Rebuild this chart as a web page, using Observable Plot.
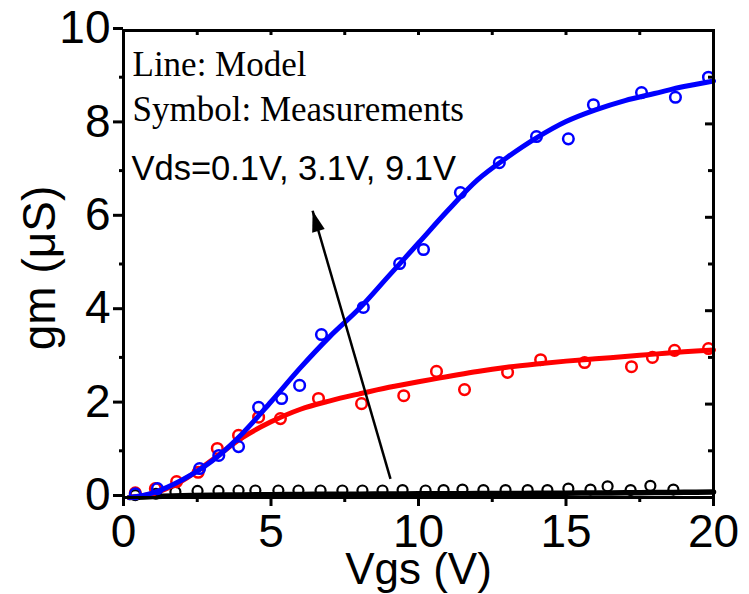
<!DOCTYPE html>
<html>
<head>
<meta charset="utf-8">
<script src="https://cdn.jsdelivr.net/npm/d3@7"></script>
<script src="https://cdn.jsdelivr.net/npm/@observablehq/plot@0.6"></script>
<style>
  html, body { margin: 0; padding: 0; background: #fff; }
  #chart svg { display: block; }
</style>
</head>
<body>
<div id="chart"></div>
<script>
// ---- Measurements (symbols) ----
const blueMeasVgs = [0.4, 1.15, 2.58, 3.23, 3.9, 4.58, 5.36, 5.97, 6.71, 8.13, 9.36, 10.17, 11.42, 12.74, 14.0, 15.08, 15.93, 17.56, 18.71, 19.83];
const blueMeasGm  = [0.08, 0.19, 0.62, 0.9, 1.09, 1.93, 2.12, 2.4, 3.49, 4.07, 5.01, 5.31, 6.53, 7.17, 7.73, 7.68, 8.41, 8.67, 8.57, 9.0];

const redMeasVgs = [0.4, 1.08, 1.8, 2.53, 3.18, 3.9, 4.58, 5.32, 6.61, 8.07, 9.5, 10.61, 11.56, 13.02, 14.14, 15.63, 17.22, 17.93, 18.68, 19.83];
const redMeasGm  = [0.1, 0.19, 0.34, 0.54, 1.05, 1.33, 1.72, 1.69, 2.12, 2.01, 2.18, 2.7, 2.31, 2.68, 2.95, 2.89, 2.8, 3.0, 3.15, 3.19];

const blackMeasVgs = [0.4, 1.1, 1.76, 2.51, 3.22, 3.9, 4.47, 5.25, 5.93, 6.68, 7.42, 8.1, 8.78, 9.46, 10.24, 10.85, 11.49, 12.2, 12.95, 13.7, 14.37, 15.08, 15.83, 16.41, 17.19, 17.86, 18.64];
const blackMeasGm  = [0.05, 0.08, 0.12, 0.14, 0.14, 0.15, 0.15, 0.15, 0.15, 0.15, 0.15, 0.15, 0.15, 0.16, 0.15, 0.16, 0.17, 0.16, 0.16, 0.16, 0.16, 0.19, 0.17, 0.24, 0.16, 0.25, 0.17];

// ---- Model (lines) ----
const modelVgs     = [0.2, 1, 2, 3, 4, 5, 6, 7, 8, 9, 10, 11, 12, 13, 14, 15, 16, 17, 18, 19, 20];
const blueModelGm  = [0, 0.1, 0.38, 0.78, 1.35, 2.05, 2.78, 3.45, 4.05, 4.75, 5.45, 6.15, 6.8, 7.28, 7.7, 8.05, 8.3, 8.5, 8.65, 8.8, 8.92];
const redModelGm   = [0, 0.08, 0.36, 0.8, 1.27, 1.62, 1.89, 2.07, 2.22, 2.36, 2.48, 2.59, 2.7, 2.79, 2.86, 2.92, 2.97, 3.02, 3.07, 3.12, 3.16];
const blackModelGm = [0, 0.02, 0.04, 0.05, 0.055, 0.06, 0.065, 0.07, 0.072, 0.075, 0.078, 0.08, 0.083, 0.086, 0.09, 0.093, 0.096, 0.1, 0.105, 0.11, 0.12];

// ---- Ticks ----
const xMajorTicks = [0, 5, 10, 15, 20];
const xMinorTicks = [2.5, 7.5, 12.5, 17.5];
const yMajorTicks = [0, 2, 4, 6, 8, 10];
const yMinorTicks = [1, 3, 5, 7, 9];

// ---- Texts ----
const xLabel = ["Vgs (V)"];
const yLabel = ["gm (\u03BCS)"];
const noteLine1 = ["Line: Model"];
const noteLine2 = ["Symbol: Measurements"];
const noteLine3 = ["Vds=0.1V, 3.1V, 9.1V"];

// ---- Arrow annotation (data coordinates) ----
const arrowData = [{x1: 9.05, y1: 0.4, x2: 6.41, y2: 6.14}];

const toRows = (xs, ys) => xs.map((x, i) => ({x, y: ys[i]}));
const blueMeas = toRows(blueMeasVgs, blueMeasGm);
const redMeas = toRows(redMeasVgs, redMeasGm);
const blackMeas = toRows(blackMeasVgs, blackMeasGm);
const blueModel = toRows(modelVgs, blueModelGm);
const redModel = toRows(modelVgs, redModelGm);
const blackModel = toRows(modelVgs, blackModelGm);

const W = 749, H = 594;
const mL = 123, mR = 36, mT = 30, mB = 97;
const innerW = W - mL - mR, innerH = H - mT - mB;

// Filled arrow head, tip at origin, rotated to follow the arrow shaft
const arrowHead = {
  draw(ctx) {
    const L = 21, Wd = 6.5, a = -16.2 * Math.PI / 180;
    const pts = [[0, 0], [-Wd, L], [Wd, L]].map(([px, py]) =>
      [px * Math.cos(a) - py * Math.sin(a), px * Math.sin(a) + py * Math.cos(a)]);
    ctx.moveTo(pts[0][0], pts[0][1]);
    ctx.lineTo(pts[1][0], pts[1][1]);
    ctx.lineTo(pts[2][0], pts[2][1]);
    ctx.closePath();
  }
};

const sans = "'Liberation Sans', Arial, Helvetica, sans-serif";
const serif = "'Liberation Serif', 'Times New Roman', Times, serif";

const chart = Plot.plot({
  width: W, height: H,
  marginLeft: mL, marginRight: mR, marginTop: mT, marginBottom: mB,
  x: {domain: [0, 20]},
  y: {domain: [0, 10]},
  style: {fontFamily: sans, background: "white", color: "black", overflow: "visible"},
  marks: [
    // axes (outward ticks on bottom/left)
    Plot.axisX({ticks: xMajorTicks, tickSize: 9, tickPadding: 8, strokeWidth: 3, fontSize: 46, label: null, fill: "black"}),
    Plot.axisX({ticks: xMinorTicks, tickSize: 5, strokeWidth: 3, tickFormat: () => "", label: null}),
    Plot.axisY({ticks: yMajorTicks, tickSize: 10, tickPadding: 3, strokeWidth: 3, fontSize: 46, label: null, dy: -2, fill: "black"}),
    Plot.axisY({ticks: yMinorTicks, tickSize: 4, strokeWidth: 3, tickFormat: () => "", label: null}),
    // mirrored inward ticks on top/right
    Plot.tickX(xMinorTicks.concat([5, 10, 15]), {x: d => d, insetBottom: innerH - 5, strokeWidth: 3, stroke: "black"}),
    Plot.tickY(yMajorTicks.slice(1, -1), {y: d => d, insetLeft: innerW - 8, strokeWidth: 3, stroke: "black"}),
    Plot.tickY(yMinorTicks, {y: d => d, insetLeft: innerW - 5, strokeWidth: 3, stroke: "black"}),

    // Vds = 0.1 V
    Plot.dot(blackMeas, {x: "x", y: "y", r: 5, stroke: "black", strokeWidth: 2.2, fill: "none"}),
    Plot.line(blackModel, {x: "x", y: "y", stroke: "black", strokeWidth: 5.5, curve: "catmull-rom"}),
    // Vds = 3.1 V
    Plot.dot(redMeas, {x: "x", y: "y", r: 5.3, stroke: "#ff0000", strokeWidth: 2.5, fill: "none"}),
    Plot.line(redModel, {x: "x", y: "y", stroke: "#ff0000", strokeWidth: 5, curve: "catmull-rom"}),
    // Vds = 9.1 V
    Plot.dot(blueMeas, {x: "x", y: "y", r: 5.3, stroke: "#0000ff", strokeWidth: 2.5, fill: "none"}),
    Plot.line(blueModel, {x: "x", y: "y", stroke: "#0000ff", strokeWidth: 5, curve: "catmull-rom"}),

    // arrow
    Plot.link(arrowData, {x1: "x1", y1: "y1", x2: "x2", y2: "y2", stroke: "black", strokeWidth: 2.5}),
    Plot.dot(arrowData, {x: "x2", y: "y2", symbol: arrowHead, r: 6, fill: "black", stroke: "none"}),

    // frame
    Plot.frame({stroke: "black", strokeWidth: 3}),

    // notes
    Plot.text(noteLine1, {frameAnchor: "top-left", dx: 9, dy: 45, textAnchor: "start", lineAnchor: "bottom", fontFamily: serif, fontSize: 35, fill: "black"}),
    Plot.text(noteLine2, {frameAnchor: "top-left", dx: 9, dy: 90, textAnchor: "start", lineAnchor: "bottom", fontFamily: serif, fontSize: 35, fill: "black"}),
    Plot.text(noteLine3, {frameAnchor: "top-left", dx: 8, dy: 149, textAnchor: "start", lineAnchor: "bottom", fontFamily: sans, fontSize: 34.5, fill: "black"}),

    // axis labels
    Plot.text(xLabel, {frameAnchor: "bottom", dy: 86, textAnchor: "middle", lineAnchor: "bottom", fontSize: 44, fill: "black"}),
    Plot.text(yLabel, {frameAnchor: "left", dx: -83, dy: 4, rotate: -90, textAnchor: "middle", lineAnchor: "middle", fontSize: 46, fill: "black"})
  ]
});

document.getElementById("chart").appendChild(chart);
</script>
</body>
</html>
